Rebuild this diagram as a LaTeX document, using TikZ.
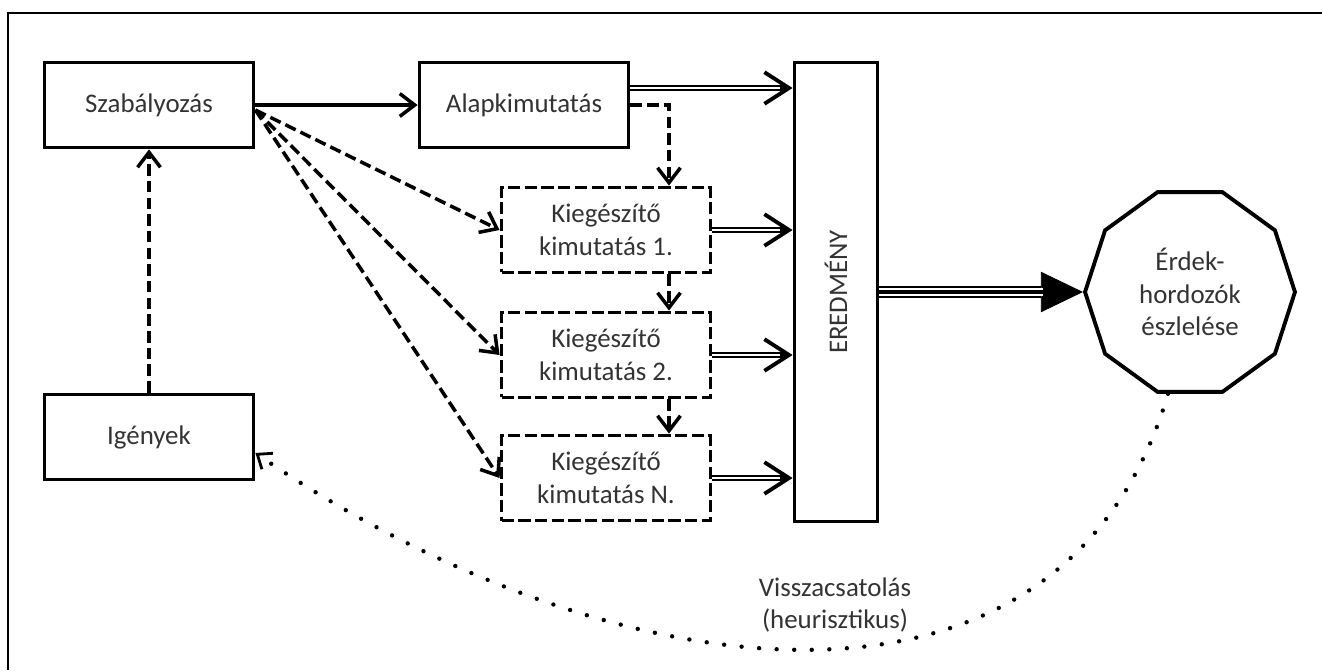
\documentclass[tikz,border=0pt]{standalone}
\usepackage{fontspec}
\setmainfont{Carlito}
\usetikzlibrary{arrows.meta,shapes,positioning}

\begin{document}
\begin{tikzpicture}[x=0.02cm,y=-0.02cm,
every node/.style={font=\fontsize{15.3}{18.7}\selectfont,text=black!80,align=center},
box/.style={draw,rectangle,line width=2.2pt,minimum width=4.18cm,minimum height=1.7cm,inner sep=0pt},
dbox/.style={box,dash pattern=on 7pt off 2.5pt},
arr/.style={line width=2pt,-{Straight Barb[length=8.5pt,width=13pt]}},
darr/.style={arr,dash pattern=on 6.5pt off 3pt},
dbl/.style={line width=3.4pt,-{Straight Barb[length=14pt,width=18pt,line width=2.2pt]}},
gap/.style={white,line width=1.5pt,shorten >=7pt}]
\useasboundingbox (0,0) rectangle (1322,670);
\draw[line width=1.2pt] (8,670) -- (8,13) -- (1322,13);

\node (szab) [box] at (149,105) {Szabályozás};
\node (alap) [box] at (524,105) {Alapkimutatás};
\node (igeny) [box] at (149,437) {Igények};
\node (kieg1) [dbox] at (606,230) {Kiegészítő\\kimutatás 1.};
\node (kieg2) [dbox] at (606,355) {Kiegészítő\\kimutatás 2.};
\node (kiegN) [dbox] at (606,478) {Kiegészítő\\kimutatás N.};
\node (ered) [box,minimum width=1.66cm,minimum height=9.18cm] at (836,292) {};
\node (eredtxt) [rotate=90] at (ered) {EREDMÉNY};
\node (erdek) [draw,regular polygon,regular polygon sides=10,minimum size=4.2cm,
    line width=2.2pt,inner sep=0pt] at (1190,292) {Érdek-\\hordozók\\észlelése};
\node (fb) at (835,605) {Visszacsatolás\\(heurisztikus)};

\draw[arr] (szab.east) -- (alap.west);
\draw[darr] (igeny.north) -- (szab.south);
\coordinate (fan) at ([yshift=-0.1cm]szab.east);
\foreach \k in {kieg1,kieg2,kiegN}
  \draw[darr] (fan) -- (\k.west);
\draw[darr] (alap.east) -| ([xshift=1.26cm]kieg1.north);
\draw[darr] ([xshift=1.26cm]kieg1.south) -- ([xshift=1.26cm]kieg2.north);
\draw[darr] ([xshift=1.26cm]kieg2.south) -- ([xshift=1.26cm]kiegN.north);

\draw[dbl] ([yshift=0.34cm]alap.east) -- ([yshift=0.34cm]alap.east -| ered.west);
\draw[gap] ([yshift=0.34cm]alap.east) -- ([yshift=0.34cm]alap.east -| ered.west);
\foreach \k in {kieg1,kieg2,kiegN}{
  \draw[dbl] (\k.east) -- (\k.east -| ered.west);
  \draw[gap] (\k.east) -- (\k.east -| ered.west);
}

\draw[line width=7pt,-{Triangle[length=24pt,width=23pt,line width=0.5pt]}] (ered.east |- erdek.west) -- (erdek.west);
\draw[white,line width=4.6pt,shorten >=23pt] (ered.east |- erdek.west) -- (erdek.west);
\draw[line width=2.6pt,shorten >=23pt] (ered.east |- erdek.west) -- (erdek.west);

\draw[line width=2.5pt,dash pattern=on 0pt off 10pt,line cap=round,
    -{Straight Barb[length=7pt,width=11pt,line width=1.6pt]}]
  ([xshift=-0.44cm]erdek.south) .. controls (1060,760) and (600,690) .. ([yshift=-0.32cm]igeny.east);
\end{tikzpicture}
\end{document}
